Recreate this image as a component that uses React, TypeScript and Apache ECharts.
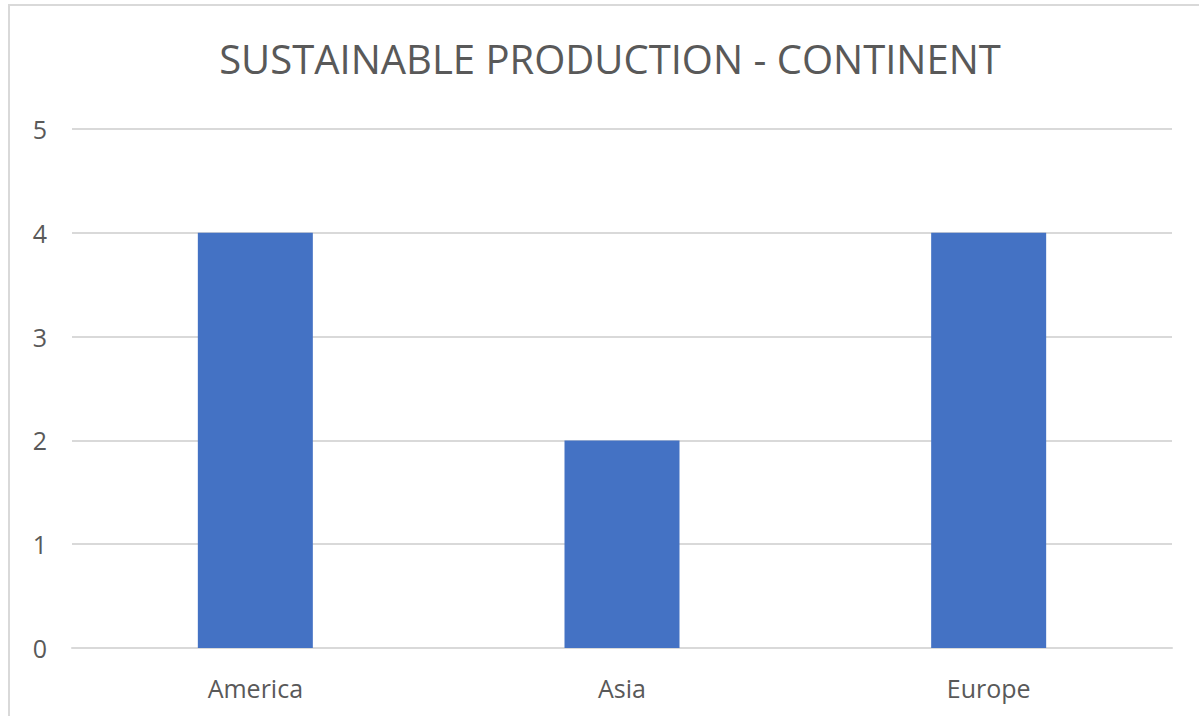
import React, { useEffect, useRef } from "react";
import * as echarts from "echarts";

const titleText = "SUSTAINABLE PRODUCTION - CONTINENT";
const categories = ["America", "Asia", "Europe"];
const values = [4, 2, 4];
const yMin = 0;
const yMax = 5;
const yInterval = 1;

export default function App() {
  const ref = useRef<HTMLDivElement>(null);
  useEffect(() => {
    if (!ref.current) return;
    const chart = echarts.init(ref.current, undefined, { renderer: "svg" });
    const font = "'Open Sans', 'Noto Sans', sans-serif";
    chart.setOption({
      animation: false,
      backgroundColor: "#ffffff",
      title: {
        text: titleText,
        left: 605,
        textAlign: "center",
        top: 33,
        textStyle: { fontFamily: font, fontSize: 40, fontWeight: "normal", color: "#595959" },
      },
      graphic: [
        {
          type: "rect",
          shape: { x: 9, y: 5, width: 1300, height: 800 },
          style: { fill: "none", stroke: "#d9d9d9", lineWidth: 2 },
          silent: true,
        },
      ],
      grid: { left: 72, right: 27, top: 129, bottom: 68, containLabel: false },
      xAxis: {
        type: "category",
        data: categories,
        axisLine: { show: true, lineStyle: { color: "#d9d9d9", width: 2 } },
        axisTick: { show: false },
        axisLabel: { fontFamily: font, fontSize: 25, color: "#595959", margin: 27 },
      },
      yAxis: {
        type: "value",
        min: yMin,
        max: yMax,
        interval: yInterval,
        axisLine: { show: false },
        axisTick: { show: false },
        splitLine: { lineStyle: { color: "#d9d9d9", width: 2 } },
        axisLabel: { fontFamily: font, fontSize: 25, color: "#595959", margin: 25 },
      },
      series: [
        {
          type: "bar",
          data: values,
          barWidth: 115,
          itemStyle: { color: "#4472c4" },
        },
      ],
    });
    return () => chart.dispose();
  }, []);
  return (
    <div
      ref={ref}
      style={{ position: "fixed", left: 0, top: 0, width: 1199, height: 716, background: "#fff" }}
    />
  );
}
